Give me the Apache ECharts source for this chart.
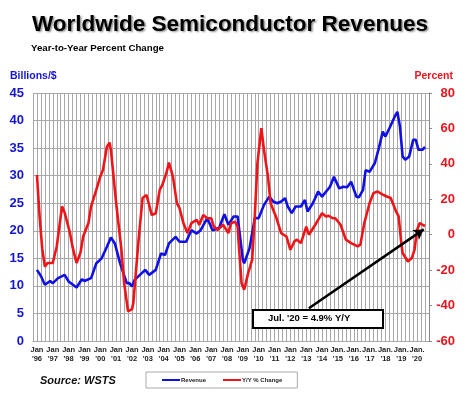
<!DOCTYPE html>
<html>
<head>
<meta charset="utf-8">
<script src="https://cdn.jsdelivr.net/npm/echarts@6/dist/echarts.min.js"></script>
<style>
  html, body { margin: 0; padding: 0; background: #fff; }
  #chart { width: 474px; height: 411px; }
</style>
</head>
<body>
<div id="chart"></div>
<script>
// month index: 0 = Jan '96
const yearLabels = ["'96","'97","'98","'99","'00","'01","'02","'03","'04","'05","'06","'07",
  "'08","'09","'10","'11","'12","'13","'14","'15","'16","'17","'18","'19","'20"];

// Revenue, billions of $ (left axis)
const revenue = [
  [0,12.9],[3,11.8],[6,10.2],[10,10.9],[12,10.5],[16,11.4],[21,12.0],[24,10.8],[30,9.7],
  [34,11.2],[36,10.9],[41,11.4],[45,14.1],[49,15.0],[53,17.1],[56,18.8],[59,17.7],[63,14.1],
  [68,10.5],[70,10.5],[72,9.9],[74,11.1],[78,12.0],[82,12.9],[85,12.0],[90,12.9],[94,15.9],
  [97,15.6],[100,17.7],[105,18.9],[108,18.0],[113,18.0],[117,20.1],[121,19.5],[124,20.1],
  [129,22.3],[133,20.1],[138,20.5],[142,23.0],[145,21.1],[149,22.6],[152,22.6],[156,14.7],
  [157,14.1],[161,16.8],[165,22.3],[168,22.3],[172,24.7],[176,26.2],[179,25.3],[182,25.0],
  [185,25.3],[188,25.9],[190,24.4],[193,23.2],[196,24.4],[200,24.4],[203,25.6],[205,23.5],
  [209,25.0],[213,27.1],[216,26.2],[220,27.4],[222,28.0],[225,29.8],[229,27.7],[232,28.0],
  [235,27.9],[238,28.9],[242,26.2],[244,26.1],[247,27.4],[249,31.0],[252,30.7],[256,32.3],
  [259,35.0],[262,38.0],[264,37.1],[267,38.6],[271,40.7],[273,41.6],[275,38.9],[277,33.5],
  [279,32.9],[282,33.5],[285,36.5],[287,36.5],[289,34.7],[292,34.7],[294,35.2]
];

// Year-over-year % change (right axis)
const yoyChange = [
  [0,33.7],[2,10.2],[4,-8],[6,-18],[8,-16],[12,-16],[15,-6.5],[19,16],[21,12.4],[25,1],
  [27,-7],[30,-16],[33,-10],[35,-1],[39,6.6],[41,16],[45,25.4],[48,32.9],[50,36.5],[53,49.7],
  [55,52],[56,48],[60,17.9],[64,-8.5],[66,-27],[69,-43.3],[72,-42],[73,-38.6],[77,-2.8],
  [80,20.7],[83,22.4],[87,11.1],[90,12.1],[93,25.3],[95,28.1],[98,34.7],[100,40.7],[103,32.8],
  [106,17.8],[108,15],[111,6.5],[114,0.9],[117,6.5],[121,8.4],[123,5.6],[126,11.1],[129,9.3],
  [132,9.3],[134,4.6],[137,2.7],[141,5.6],[145,0.9],[147,6.5],[150,7.4],[152,4.6],[153,-6.6],
  [155,-27.4],[157,-31.1],[160,-21.7],[163,-14.2],[165,10.3],[167,40.3],[170,60.1],[172,47.8],
  [175,32.8],[177,17.8],[181,10.3],[185,0.9],[189,-1],[192,-8.5],[195,-3.8],[197,-2.8],
  [200,-4.7],[204,4.6],[206,0],[210,4.6],[213,8.4],[216,12.1],[219,10.3],[221,10.7],[224,9.3],
  [226,9.3],[230,5.6],[234,-2.8],[238,-4.7],[243,-6.6],[245,-5.6],[248,6.6],[252,17.9],
  [255,23.5],[258,24.4],[262,22.6],[265,21.6],[268,20.7],[272,13.2],[274,10.4],[276,-4.7],
  [277,-10.3],[281,-15.1],[284,-13.2],[286,-8.5],[288,2.8],[290,6.6],[292,5.6],[294,4.9]
];

// callout arrow: from box top to the Jul '20 point
const calloutFrom = [206, -41.5];
const calloutTo = [293, 3.0];
const calloutText = "Jul. '20 = 4.9% Y/Y";

const chart = echarts.init(document.getElementById("chart"));
const gridGray = "#a8a8a8";
const font = "Liberation Sans, Arial, sans-serif";

chart.setOption({
  animation: false,
  textStyle: { fontFamily: font },
  title: [
    {
      text: "Worldwide Semiconductor Revenues",
      left: 27, top: 8,
      textStyle: {
        fontSize: 22.5, fontWeight: 900, color: "#000",
        textShadowColor: "rgba(0,0,0,0.45)", textShadowBlur: 2,
        textShadowOffsetX: 1.5, textShadowOffsetY: 1.5
      }
    },
    {
      text: "Year-to-Year Percent Change",
      left: 26, top: 38,
      textStyle: { fontSize: 9.7, fontWeight: "bold", color: "#000" }
    }
  ],
  grid: { left: 33, right: 45, top: 93, bottom: 70 },
  legend: {
    left: 146, top: 372,
    padding: [5, 15, 5, 16],
    borderColor: "#aaa", borderWidth: 1,
    itemWidth: 18, itemHeight: 2, itemGap: 17,
    icon: "rect",
    textStyle: { fontSize: 6, fontWeight: "bold", color: "#222", padding: [0, 0, 0, -4] },
    data: ["Revenue", "Y/Y % Change"]
  },
  xAxis: {
    type: "value",
    min: -3, max: 297, interval: 3,
    axisLine: { show: true, lineStyle: { color: gridGray } },
    axisTick: { show: false },
    splitLine: { show: true, lineStyle: { color: gridGray, width: 1 } },
    axisLabel: {
      margin: 4,
      fontSize: 7.5, fontWeight: "bold", color: "#222", lineHeight: 9.5,
      formatter: v => {
        if (v < 0 || v % 12 !== 0) return "";
        const i = v / 12;
        const jan = i >= 19 ? "Jan." : "Jan";
        return jan + "\n" + yearLabels[i];
      }
    }
  },
  yAxis: [
    {
      type: "value", min: 0, max: 45, interval: 5,
      axisLine: { show: false },
      axisTick: { show: false },
      splitLine: { show: true, lineStyle: { color: gridGray, width: 1 } },
      axisLabel: { margin: 9, fontSize: 13, fontWeight: "bold", color: "#1414d2" }
    },
    {
      type: "value", min: -60, max: 80, interval: 20,
      position: "right",
      axisLine: { show: true, lineStyle: { color: "#888" } },
      axisTick: { show: true, inside: false, length: 3, lineStyle: { color: "#888" } },
      splitLine: { show: false },
      axisLabel: { margin: 26, align: "right", fontSize: 13, fontWeight: "bold", color: "#e8141e" }
    }
  ],
  series: [
    {
      name: "Revenue", type: "line", yAxisIndex: 0,
      data: revenue, showSymbol: false, smooth: false,
      lineStyle: { color: "#1010e6", width: 2.6 },
      itemStyle: { color: "#1010e6" },
      z: 3
    },
    {
      name: "Y/Y % Change", type: "line", yAxisIndex: 1,
      data: yoyChange, showSymbol: false, smooth: false,
      lineStyle: { color: "#f01418", width: 2.6 },
      itemStyle: { color: "#f01418" },
      z: 4,
      markLine: {
        silent: true,
        symbol: ["none", "arrow"],
        symbolSize: [9, 10],
        label: { show: false },
        lineStyle: { color: "#000", width: 2.5, type: "solid" },
        data: [[{ coord: calloutFrom }, { coord: calloutTo }]]
      }
    }
  ],
  graphic: {
    elements: [
      {
        type: "text", left: 10, top: 71, z: 100,
        style: { text: "Billions/$", font: "bold 10.5px " + font, fill: "#1414d2" }
      },
      {
        type: "text", right: 21, top: 71, z: 100,
        style: { text: "Percent", font: "bold 10.5px " + font, fill: "#e8141e" }
      },
      {
        type: "text", left: 40, top: 375, z: 100,
        style: { text: "Source: WSTS", font: "italic bold 11px " + font, fill: "#111" }
      },
      {
        type: "rect", left: 252, top: 309, z: 100,
        shape: { width: 130, height: 18 },
        style: { fill: "#ffffff", stroke: "#000000", lineWidth: 2 }
      },
      {
        type: "text", left: 268, top: 313, z: 101,
        style: { text: calloutText, font: "bold 9.5px " + font, fill: "#000" }
      }
    ]
  }
});
</script>
</body>
</html>
